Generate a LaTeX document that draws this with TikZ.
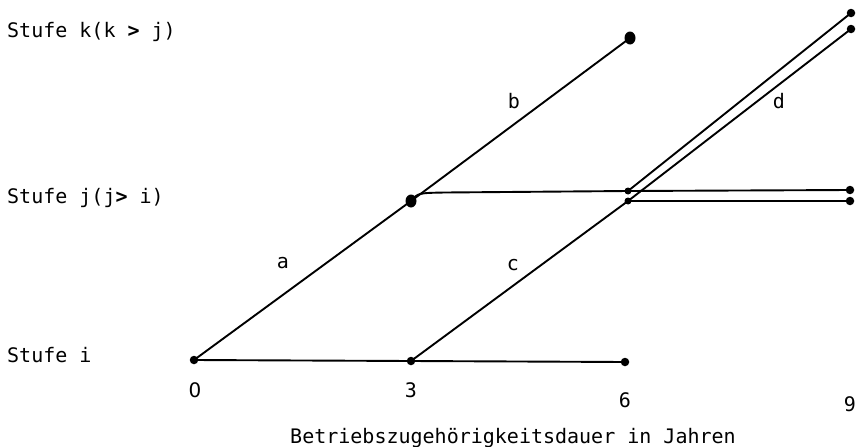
\documentclass[tikz,border=0pt]{standalone}
\usepackage{fontspec}
\usetikzlibrary{shapes.geometric}
\setmainfont{DejaVu Sans Mono}
\newfontfamily\plainsans{DejaVu Sans}
\begin{document}
\begin{tikzpicture}[x=1pt,y=-1pt,
  ln/.style={line width=1.9pt},
  dt/.style={circle,fill=black,inner sep=0pt,minimum size=8.5pt},
  bigdt/.style={ellipse,fill=black,inner sep=0pt,minimum width=11pt,minimum height=13pt},
  lbl/.style={font=\fontsize{20}{22}\selectfont,inner sep=0pt},
]
\useasboundingbox (0,0) rectangle (862,447);
% points
\node[dt] (i0) at (194,360) {};
\node[dt] (i3) at (411,361) {};
\node[dt] (i6) at (625,362) {};
\node[bigdt] (j3) at (411,201) {};
\node[bigdt] (k6) at (630,38) {};
\node[dt,minimum size=7pt] (j6u) at (628,191) {};
\node[dt,minimum size=7pt] (j6l) at (628,201) {};
\node[dt] (r9u) at (850,190) {};
\node[dt] (r9l) at (850,201) {};
\node[dt] (k9u) at (851,13) {};
\node[dt] (k9l) at (851,29) {};
\coordinate (bend) at (445,192.5);
% connectors
\draw[ln] (i0.center) -- (i3.center) -- (i6.center);
\draw[ln] (i0.center) -- (j3.center) -- (k6.center);
\draw[ln] (j3.center) .. controls (418,193) .. (bend) -- (j6u.center) -- (r9u.center);
\draw[ln] (i3.center) -- (j6l.center) -- (k9l.center);
\draw[ln] (j6u.center) -- (k9u.center);
\draw[ln] (j6l.center) -- (r9l.center);
% labels
\node[lbl,anchor=base west] (tk) at (7,37) {Stufe k(k \textbf{>} j)};
\node[lbl,anchor=base west] (tj) at (7,203) {Stufe j(j\textbf{>} i)};
\node[lbl,anchor=base west] (ti) at (7,362) {Stufe i};
\node[lbl] (la) at (283,263) {a};
\node[lbl] (lb) at (514,101) {b};
\node[lbl] (lc) at (513,265) {c};
\node[lbl] (ld) at (779,101) {d};
\node[lbl,anchor=base] (n0) at (195,397) {\plainsans 0};
\node[lbl,anchor=base] (n3) at (411,397) {3};
\node[lbl,anchor=base] (n6) at (625,407) {6};
\node[lbl,anchor=base] (n9) at (850,411) {9};
\node[lbl,anchor=base] (ax) at (513,443) {Betriebszugehörigkeitsdauer in Jahren};
\end{tikzpicture}
\end{document}
